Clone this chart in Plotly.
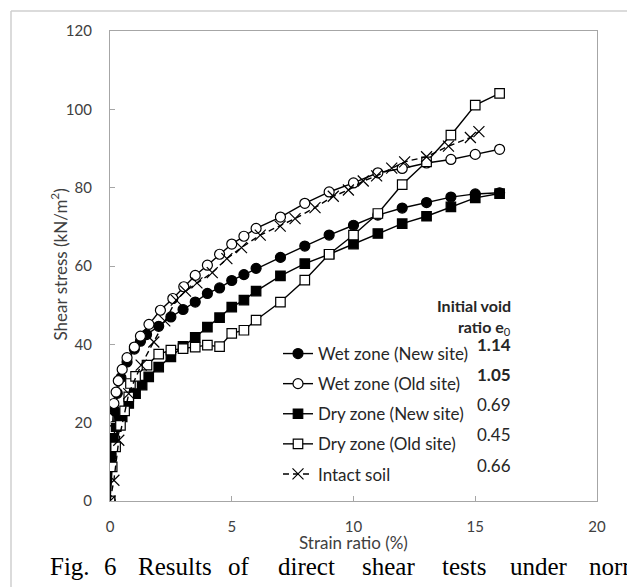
import plotly.graph_objects as go

# ---------------- data ----------------
series_names = ["Wet zone (New site)", "Wet zone (Old site)", "Dry zone (New site)",
                "Dry zone (Old site)", "Intact soil"]
void_ratios = ["1.14", "1.05", "0.69", "0.45", "0.66"]

wet_new_x = [0, 0.03, 0.07, 0.12, 0.2, 0.3, 0.45, 0.7, 1.0, 1.25, 1.5, 2.0, 2.5, 3.0, 3.5,
             4.0, 4.5, 5.0, 5.5, 6.0, 7, 8, 9, 10, 11, 12, 13, 14, 15, 16]
wet_new_y = [0, 10, 14.7, 17.6, 23, 27.5, 31.5, 35.5, 38.8, 40.8, 42.5, 44.6, 47.0, 48.9, 50.8,
             53.0, 54.4, 56.3, 57.8, 59.4, 62.2, 65.1, 67.9, 70.4, 73.0, 74.8, 76.2, 77.6, 78.4, 78.7]

wet_old_x = [0, 0.04, 0.09, 0.16, 0.25, 0.34, 0.5, 0.7, 1.0, 1.25, 1.6, 2.07, 2.58, 3.03, 3.5,
             4.0, 4.5, 5.0, 5.5, 6.0, 7, 8, 9, 10, 11, 12, 13, 14, 15, 16]
wet_old_y = [0, 12, 18, 24.9, 27.8, 30.7, 33.6, 36.6, 39.3, 42.1, 45.1, 48.7, 51.7, 54.7, 57.6,
             60.2, 63.0, 65.6, 67.6, 69.6, 72.5, 76.0, 78.9, 81.2, 83.8, 84.9, 86.3, 87.2, 88.5, 89.8]

dry_new_x = [0, 0.04, 0.12, 0.25, 0.4, 0.5, 0.77, 1.05, 1.32, 1.59, 2.0, 2.5, 3.0, 3.5,
             4.0, 4.5, 5.0, 5.5, 6.0, 7, 8, 9, 10, 11, 12, 13, 14, 15, 16]
dry_new_y = [0, 12.1, 16, 19, 21, 21.5, 24.9, 27.4, 29.6, 31.7, 34.2, 36.8, 39.5, 41.8,
             44.4, 46.8, 49.5, 51.3, 53.6, 57.5, 60.6, 63.0, 65.6, 68.3, 70.8, 72.7, 75.1, 77.4, 78.5]

dry_old_x = [0, 0.09, 0.23, 0.43, 0.6, 0.77, 0.84, 1.05, 1.52, 2.0, 2.5, 3.0, 3.5,
             4.0, 4.5, 5.0, 5.5, 6.0, 7, 8, 9, 10, 11, 12, 13, 14, 15, 16]
dry_old_y = [0, 8.7, 13.8, 19.3, 23, 26.6, 30.0, 31.8, 34.7, 37.5, 38.5, 38.9, 39.3,
             39.8, 39.4, 42.8, 43.6, 46.2, 50.8, 56.4, 63.0, 67.9, 73.4, 80.8, 86.6, 93.4, 101.1, 104.1]

intact_x = [0, 0.16, 0.36, 0.77, 1.28, 1.8, 2.25, 2.72, 3.1, 3.57, 4.2, 4.8, 5.4, 6.17, 6.99,
            7.6, 8.42, 9.17, 9.79, 10.4, 10.95, 11.57, 12.1, 13.0, 13.9, 14.8, 15.15]
intact_y = [0, 5.3, 15.5, 27.4, 34.7, 40.6, 46.0, 51.3, 53.6, 55.7, 58.3, 61.9, 64.7, 67.9, 70.2,
            72.1, 74.9, 77.8, 79.4, 81.7, 83.0, 85.0, 86.6, 87.9, 90.6, 92.8, 94.3]

x_ticks = [0, 5, 10, 15, 20]
y_ticks = [0, 20, 40, 60, 80, 100, 120]

# ---------------- figure ----------------
W, H = 627, 587
L, R, T, B = 110, 30, 31, 86
PW, PH = W - L - R, H - T - B
FONT = "Lato, 'Open Sans', sans-serif"


def px(xp):
    return (xp - L) / PW


def py(yp):
    return (H - B - yp) / PH


styles = [
    dict(symbol="circle", fill="black", dash="solid", size=10),
    dict(symbol="circle", fill="white", dash="solid", size=10),
    dict(symbol="square", fill="black", dash="solid", size=9.5),
    dict(symbol="square", fill="white", dash="solid", size=9.5),
    dict(symbol="x-thin", fill="black", dash="6px,4px", size=11),
]
xs = [wet_new_x, wet_old_x, dry_new_x, dry_old_x, intact_x]
ys = [wet_new_y, wet_old_y, dry_new_y, dry_old_y, intact_y]

fig = go.Figure()
for i, (name, x, y, st) in enumerate(zip(series_names, xs, ys, styles)):
    fig.add_trace(go.Scatter(
        x=x, y=y, name=name, mode="lines+markers", legendgroup=f"g{i}",
        line=dict(color="black", width=1.4, dash=st["dash"]),
        marker=dict(symbol=st["symbol"], size=st["size"], color=st["fill"],
                    line=dict(color="black", width=1.2)),
    ))

axis_common = dict(
    showgrid=False, zeroline=False, showline=True, linecolor="#a6a6a6", linewidth=1.3,
    mirror=True, ticks="inside", ticklen=5, tickcolor="#a6a6a6", tickwidth=1,
    tickfont=dict(family=FONT, size=15, color="#404040"),
)
fig.update_xaxes(range=[0, 20], tickvals=x_ticks, ticklabelstandoff=12, **axis_common)
fig.update_yaxes(range=[0, 120], tickvals=y_ticks, ticklabelstandoff=14, **axis_common)

ann = []
# axis titles
ann.append(dict(text="Strain ratio (%)", x=px(353), y=py(555), xref="paper", yref="paper",
                showarrow=False, font=dict(family=FONT, size=17, color="#404040")))
ann.append(dict(text="Shear stress (kN/m<sup>2</sup>)", x=px(45), y=py(265), xref="paper",
                yref="paper", textangle=-90, showarrow=False,
                font=dict(family=FONT, size=17, color="#404040")))
# legend header
ann.append(dict(text="<b>Initial void</b>", x=px(513), y=py(305), xref="paper", yref="paper",
                showarrow=False, font=dict(family=FONT, size=16, color="#262626")))
ann.append(dict(text="<b>ratio e</b><sub>0</sub>", x=px(513), y=py(327), xref="paper",
                yref="paper", showarrow=False, font=dict(family=FONT, size=16, color="#262626")))
value_y = [357, 387, 417, 447, 478]
for i, (v, vy) in enumerate(zip(void_ratios, value_y)):
    txt = f"<b>{v}</b>" if i < 2 else v
    ann.append(dict(text=txt, x=px(513), y=py(vy), xref="paper", yref="paper",
                    showarrow=False, font=dict(family=FONT, size=17, color="#262626")))

# caption (cut at the right edge as in the reference)
cap_words = ["Fig.", "6", "Results", "of", "direct", "shear", "tests", "under", "normal"]
cap_x = [48, 102, 136, 226, 276, 360, 440, 508, 587]
for w_, cx in zip(cap_words, cap_x):
    ann.append(dict(text=w_, x=px(cx), y=py(582), xref="paper", yref="paper", xanchor="left",
                    showarrow=False, font=dict(family="Liberation Serif, serif", size=25,
                                               color="black")))

shapes = [
    dict(type="line", xref="paper", yref="paper", x0=px(11), x1=px(640), y0=py(11), y1=py(11),
         line=dict(color="#cfcfcf", width=1.5)),
    dict(type="line", xref="paper", yref="paper", x0=px(11), x1=px(11), y0=py(11), y1=py(600),
         line=dict(color="#cfcfcf", width=1.5)),
]

fig.update_layout(
    width=W, height=H, margin=dict(l=L, r=R, t=T, b=B, pad=0),
    paper_bgcolor="white", plot_bgcolor="white",
    font=dict(family=FONT, color="#262626"),
    showlegend=True,
    legend=dict(x=px(278), y=py(336), xanchor="left", yanchor="top",
                bgcolor="rgba(0,0,0,0)", font=dict(family=FONT, size=17, color="#262626"),
                tracegroupgap=5, itemwidth=30),
    annotations=ann, shapes=shapes,
)

fig.write_html("out.html", config={"displayModeBar": False},
               post_script="document.body.style.margin='0';")
